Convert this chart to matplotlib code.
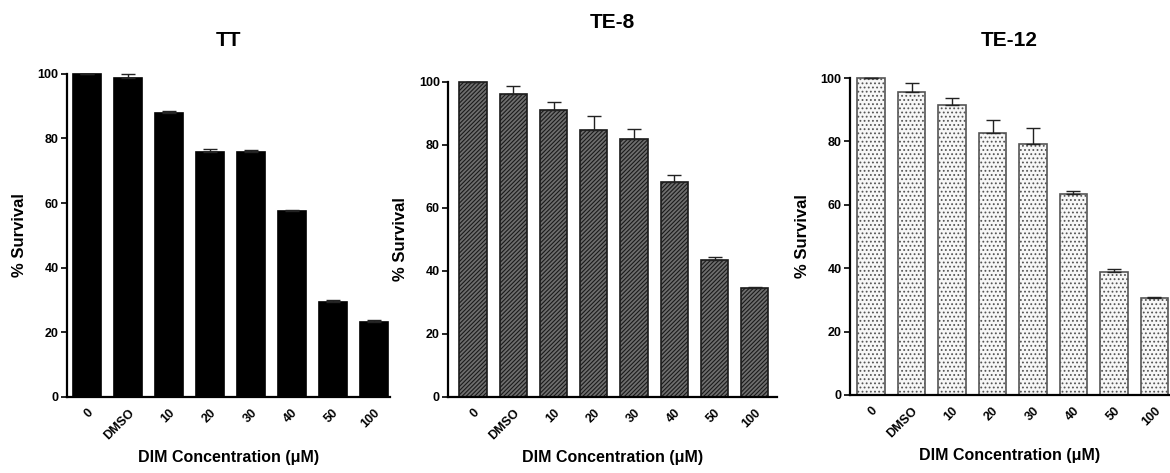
import matplotlib
matplotlib.use('Agg')
import matplotlib.pyplot as plt
import numpy as np

plt.rcParams['font.family'] = ['Liberation Sans', 'DejaVu Sans']
plt.rcParams['font.weight'] = 'bold'
plt.rcParams['hatch.linewidth'] = 0.8

# Data
doses = ['0', 'DMSO', '10', '20', '30', '40', '50', '100']

tt_mean = [100, 98.7, 88.0, 75.9, 75.7, 57.5, 29.3, 23.2]
tt_err = [0, 1.1, 0.5, 0.7, 0.6, 0.3, 0.7, 0.5]

te8_mean = [100, 96.2, 90.9, 84.6, 82.0, 68.2, 43.3, 34.7]
te8_err = [0, 2.6, 2.8, 4.5, 2.9, 2.3, 1.0, 0.2]

te12_mean = [100, 95.5, 91.5, 82.6, 79.2, 63.4, 38.7, 30.5]
te12_err = [0, 2.9, 2.2, 4.1, 5.1, 1.1, 1.1, 0.3]

panels = [
    # title, means, errs, axes rect, xlim, title y, bar style
    ('TT', tt_mean, tt_err, [0.0573, 0.161, 0.276, 0.683], (-0.49, 7.4), 0.915,
     dict(color='black', edgecolor='black', hatch=None)),
    ('TE-8', te8_mean, te8_err, [0.383, 0.161, 0.281, 0.666], (-0.62, 7.55), 0.953,
     dict(color='#6e6e6e', edgecolor='#1a1a1a', hatch='////////')),
    ('TE-12', te12_mean, te12_err, [0.7265, 0.165, 0.273, 0.670], (-0.52, 7.37), 0.915,
     dict(color='#f7f7f7', edgecolor='#555555', hatch='....')),
]

fig = plt.figure(figsize=(11.7, 4.73), dpi=100)

for title, means, errs, rect, xlim, ty, style in panels:
    ax = fig.add_axes(rect)
    x = np.arange(len(doses))
    ax.bar(x, means, width=0.68, color=style['color'],
           edgecolor=style['edgecolor'], hatch=style['hatch'],
           linewidth=1.2, clip_on=False, zorder=2)
    lower = np.zeros(len(errs))
    ax.errorbar(x, means, yerr=[lower, errs], fmt='none', ecolor='#222222',
                elinewidth=1.0, capsize=5, capthick=1.0, clip_on=False, zorder=3)
    ax.set_xlim(*xlim)
    ax.set_ylim(0, 100)
    ax.set_yticks([0, 20, 40, 60, 80, 100])
    ax.set_xticks(x)
    ax.set_xticklabels(doses, rotation=45, ha='right', rotation_mode='anchor',
                       fontsize=9, fontweight='bold')
    ax.tick_params(axis='x', length=0, pad=7)
    ax.tick_params(axis='y', length=4, width=1.2, labelsize=9, pad=2)
    for lab in ax.get_yticklabels():
        lab.set_fontweight('bold')
    ax.spines['top'].set_visible(False)
    ax.spines['right'].set_visible(False)
    ax.spines['left'].set_linewidth(1.6)
    ax.spines['bottom'].set_linewidth(1.6)
    ax.set_ylabel('% Survival', fontsize=12, fontweight='bold', labelpad=8)
    ax.set_xlabel('DIM Concentration (\u03bcM)', fontsize=11.5, fontweight='bold',
                  labelpad=6)
    fig.text(rect[0] + rect[2] * 0.5, ty, title, ha='center', va='center',
             fontsize=15, fontweight='bold')

fig.savefig('out.png', dpi=100)
